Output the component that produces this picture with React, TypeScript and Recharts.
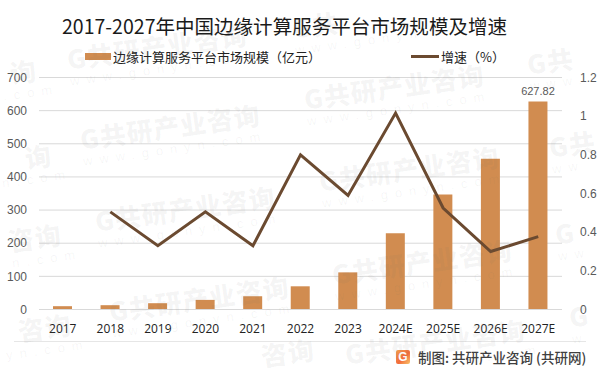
import React from "react";
import { ComposedChart, Bar, Line, XAxis, YAxis, CartesianGrid, LabelList } from "recharts";

const categories = ["2017", "2018", "2019", "2020", "2021", "2022", "2023", "2024E", "2025E", "2026E", "2027E"];
const marketSize = [10, 13, 19, 29, 40, 70, 112, 230, 347, 455, 627.82];
const growth = [null, 0.505, 0.33, 0.505, 0.33, 0.8, 0.59, 1.016, 0.525, 0.3, 0.377];
const leftTicks = [0, 100, 200, 300, 400, 500, 600, 700];
const rightTicks = [0, 0.2, 0.4, 0.6, 0.8, 1, 1.2];
const shownLabels = [null, null, null, null, null, null, null, null, null, null, 627.82];
const title = "2017-2027年中国边缘计算服务平台市场规模及增速";
const barName = "边缘计算服务平台市场规模（亿元）";
const lineName = "增速（%）";
const source = "制图: 共研产业咨询 (共研网)";
const markMain = "G共研产业咨询";
const markSub = "www.gonyn.com";

const data = categories.map((c, i) => ({
  category: c,
  size: marketSize[i],
  growth: growth[i],
  label: shownLabels[i],
}));

const BAR = "#D18C50";
const LINE = "#6B4A30";
const CJK = '"Noto Sans CJK SC", "Liberation Sans", sans-serif';
const LATIN = '"Liberation Sans", "Noto Sans CJK SC", sans-serif';

const marks: [number, number][] = [
  [65, 45], [78, 125], [93, 207], [107, 297],
  [290, 14], [302, 85], [317, 167], [330, 260], [343, 340],
  [525, 50], [547, 133], [553, 220], [567, 303],
  [-145, 80], [-130, 165], [-120, 245], [-110, 335],
];

const ANGLE = (8 * Math.PI) / 180;
const COS = Math.cos(ANGLE);
const SIN = Math.sin(ANGLE);

function clipRun(text: string, adv: (i: number) => number, x0: number, y0: number, h: number) {
  let d = 0;
  let first = -1;
  let last = -1;
  let startD = 0;
  for (let i = 0; i < text.length; i++) {
    const a = adv(i);
    const px = x0 + d * COS;
    const py = y0 - d * SIN;
    const ok = px >= 0 && px + a * COS <= 597 && py - a * SIN - 6 >= 0 && py + h <= 372;
    if (ok) {
      if (first < 0) {
        first = i;
        startD = d;
      }
      last = i;
    }
    d += a;
  }
  if (first < 0) return null;
  return { text: text.slice(first, last + 1), x: x0 + startD * COS, y: y0 - startD * SIN };
}

function MarkText({ x, y, text, kind }: { x: number; y: number; text: string; kind: "main" | "sub" }) {
  const main = kind === "main";
  const run = main
    ? clipRun(text, (i) => (text[i] === "G" ? 19 : 27), x, y, 28)
    : clipRun(text, () => 16, x, y, 18);
  if (!run) return null;
  return (
    <div
      style={{
        position: "absolute",
        left: run.x,
        top: run.y,
        transform: "rotate(-8deg)",
        transformOrigin: "0 0",
        whiteSpace: "nowrap",
        color: "rgba(110,110,110,0.065)",
        fontFamily: main ? CJK : LATIN,
        fontSize: main ? 26 : 13,
        fontWeight: main ? 900 : 400,
        lineHeight: main ? "28px" : "18px",
        letterSpacing: main ? 1 : 7,
        pointerEvents: "none",
      }}
    >
      {run.text}
    </div>
  );
}

export default function App() {
  return (
    <div style={{ position: "fixed", left: 0, top: 0, width: 598, height: 373, background: "#fff", overflow: "hidden" }}>
      <div
        style={{
          position: "absolute",
          left: 0,
          top: 11,
          width: 569,
          textAlign: "center",
          fontFamily: CJK,
          fontSize: 19.55,
          lineHeight: "30px",
          color: "#1a1a1a",
          whiteSpace: "nowrap",
        }}
      >
        {title}
      </div>

      <div style={{ position: "absolute", left: 85, top: 53, width: 26, height: 7, background: BAR }} />
      <div style={{ position: "absolute", left: 113, top: 47, fontFamily: CJK, fontSize: 13, lineHeight: "20px", color: "#222", whiteSpace: "nowrap" }}>
        {barName}
      </div>
      <div style={{ position: "absolute", left: 411, top: 55, width: 28, height: 3, background: LINE }} />
      <div style={{ position: "absolute", left: 441, top: 47, fontFamily: CJK, fontSize: 13, lineHeight: "20px", color: "#222", whiteSpace: "nowrap" }}>
        {lineName}
      </div>

      <div style={{ position: "absolute", left: 0, top: 0 }}>
        <ComposedChart
          width={598}
          height={373}
          data={data}
          margin={{ top: 77.5, right: 0, bottom: 33.5, left: 0 }}
        >
          <CartesianGrid vertical={false} stroke="#D9D9D9" strokeWidth={1} yAxisId="left" />
          <XAxis
            dataKey="category"
            height={30}
            interval={0}
            axisLine={{ stroke: "#D9D9D9" }}
            tickLine={false}
            tickMargin={9}
            tick={{ fontSize: 12, fontFamily: '"Open Sans", sans-serif', fill: "#222" }}
          />
          <YAxis
            yAxisId="left"
            width={39}
            domain={[0, 700]}
            ticks={leftTicks}
            axisLine={false}
            tickLine={false}
            tickMargin={6}
            tick={{ fontSize: 12, fontFamily: LATIN, fill: "#595959" }}
          />
          <YAxis
            yAxisId="right"
            orientation="right"
            width={36}
            domain={[0, 1.2]}
            ticks={rightTicks}
            axisLine={false}
            tickLine={false}
            tickMargin={12}
            tick={{ fontSize: 12, fontFamily: LATIN, fill: "#595959" }}
          />
          <Bar yAxisId="left" dataKey="size" name={barName} fill={BAR} barSize={19} isAnimationActive={false}>
            <LabelList dataKey="label" position="top" offset={6} style={{ fontSize: 11, fontFamily: LATIN, fill: "#595959" }} />
          </Bar>
          <Line
            yAxisId="right"
            dataKey="growth"
            name={lineName}
            stroke={LINE}
            strokeWidth={3}
            dot={false}
            type="linear"
            connectNulls={false}
            isAnimationActive={false}
          />
        </ComposedChart>
      </div>

      <div style={{ position: "absolute", left: 14, top: 341, width: 572, height: 1, background: "#E6E6E6" }} />
      <div
        style={{
          position: "absolute",
          left: 396,
          top: 350,
          width: 14,
          height: 14,
          borderRadius: 2,
          background: "linear-gradient(135deg, #F6A04D, #F26B3A 55%, #F9C46B)",
          color: "#fff",
          fontFamily: LATIN,
          fontWeight: 700,
          fontSize: 12,
          lineHeight: "14px",
          textAlign: "center",
        }}
      >
        G
      </div>
      <div style={{ position: "absolute", left: 418, top: 347, fontFamily: CJK, fontSize: 13.5, fontWeight: 500, lineHeight: "20px", color: "#404040", whiteSpace: "nowrap" }}>
        {source}
      </div>

      {marks.map(([x, y], i) => (
        <React.Fragment key={i}>
          <MarkText x={x} y={y} text={markMain} kind="main" />
          <MarkText x={x + 4} y={y + 28} text={markSub} kind="sub" />
        </React.Fragment>
      ))}
      <MarkText x={232} y={346} text="业咨询" kind="main" />
    </div>
  );
}
